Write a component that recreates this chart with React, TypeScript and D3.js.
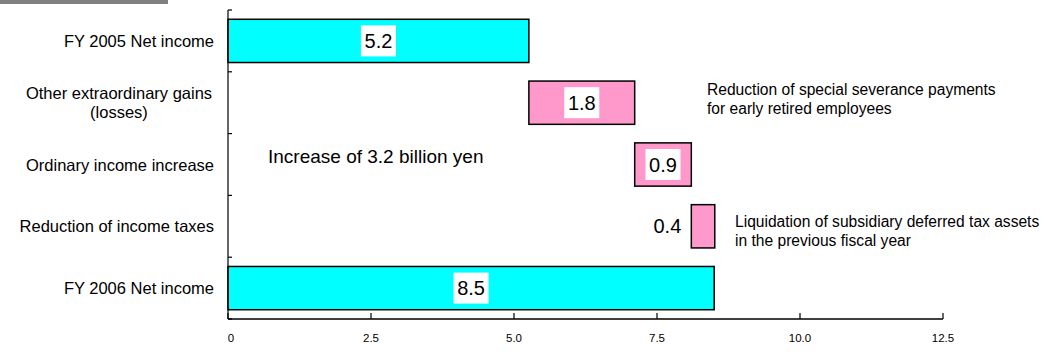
import React from "react";
import * as d3 from "d3";

const categories = [
  ["FY 2005 Net income"],
  ["Other extraordinary gains", "(losses)"],
  ["Ordinary income increase"],
  ["Reduction of income taxes "],
  ["FY 2006 Net income"],
];
const barValues = [5.26, 1.85, 0.99, 0.41, 8.5];
const barKinds = ["total", "delta", "delta", "delta", "total"];
const valueLabels = ["5.2", "1.8", "0.9", "0.4", "8.5"];
const xTicks = [0, 2.5, 5, 7.5, 10, 12.5];
const xTickLabels = ["0", "2.5", "5.0", "7.5", "10.0", "12.5"];
const note1 = ["Reduction of special severance payments", "for early retired employees"];
const note2 = ["Liquidation of subsidiary deferred tax assets", "in the previous fiscal year"];
const centerNote = "Increase of 3.2 billion yen";

const W = 1050;
const H = 352;
const FONT = "'Liberation Sans', Arial, sans-serif";

export default function App() {
  const x = d3.scaleLinear().domain([0, 12.5]).range([228, 943]);
  const idx = categories.map((_, i) => String(i));
  const y = d3.scaleBand().domain(idx).range([10, 319]).paddingInner(0.3).paddingOuter(0.15);
  const step = y.step();

  let cum = 0;
  const bars = barValues.map((v, i) => {
    let start = 0;
    let end = v;
    if (barKinds[i] === "delta") {
      start = cum;
      end = cum + v;
      cum = end;
    } else {
      cum = v;
    }
    return { i, start, end, kind: barKinds[i], label: valueLabels[i] };
  });

  const axisBottom = 319;

  return (
    <svg
      width={W}
      height={H}
      style={{ position: "absolute", left: 0, top: 0, background: "#fff" }}
      fontFamily={FONT}
    >
      <rect x={0} y={0} width={168} height={4} fill="#808080" />

      {/* bars */}
      {bars.map((b) => {
        const y0 = y(String(b.i))!;
        const bh = y.bandwidth();
        const x0 = x(b.start);
        const x1 = x(b.end);
        const cx = (x0 + x1) / 2;
        const cy = y0 + bh / 2;
        const fill = b.kind === "total" ? "#00FFFF" : "#FF99CC";
        const wide = x1 - x0 > 40;
        return (
          <g key={b.i}>
            <rect x={x0} y={y0} width={x1 - x0} height={bh} fill={fill} stroke="#000" strokeWidth={1.5} />
            {wide ? (
              <g>
                <rect x={cx - 17.5} y={cy - 15.5} width={35} height={31} fill="#fff" />
                <text x={cx} y={cy} textAnchor="middle" dominantBaseline="central" fontSize={20} fill="#000">
                  {b.label}
                </text>
              </g>
            ) : (
              <text x={x0 - 10} y={cy} textAnchor="end" dominantBaseline="central" fontSize={20} fill="#000">
                {b.label}
              </text>
            )}
          </g>
        );
      })}

      {/* y axis */}
      <line x1={228} x2={228} y1={10} y2={axisBottom} stroke="#000" strokeWidth={1.2} />
      {d3.range(categories.length + 1).map((k) => {
        const yy = 10 + k * step;
        return <line key={k} x1={228} x2={232} y1={yy} y2={yy} stroke="#000" strokeWidth={1.2} />;
      })}

      {/* x axis */}
      <line x1={228} x2={x(12.5)} y1={axisBottom} y2={axisBottom} stroke="#000" strokeWidth={1.5} />
      {xTicks.map((t, k) => (
        <g key={k}>
          <line x1={x(t)} x2={x(t)} y1={axisBottom} y2={axisBottom - 6} stroke="#000" strokeWidth={1.2} />
          <text x={x(t) + (t === 0 ? 3 : 0)} y={338} textAnchor="middle" dominantBaseline="central" fontSize={11.5} fill="#000">
            {xTickLabels[k]}
          </text>
        </g>
      ))}

      {/* category labels */}
      {categories.map((lines, i) => {
        const cy = y(String(i))! + y.bandwidth() / 2;
        const lh = 19;
        if (lines.length === 1) {
          return (
            <text key={i} x={214} y={cy} textAnchor="end" dominantBaseline="central" fontSize={16.5} fill="#000">
              {lines[0]}
            </text>
          );
        }
        return (
          <g key={i}>
            {lines.map((ln, j) => (
              <text
                key={j}
                x={119}
                y={cy - ((lines.length - 1) * lh) / 2 + j * lh}
                textAnchor="middle"
                dominantBaseline="central"
                fontSize={16.5}
                fill="#000"
              >
                {ln}
              </text>
            ))}
          </g>
        );
      })}

      {/* annotations */}
      <text x={268} y={156} dominantBaseline="central" fontSize={19} fill="#000">
        {centerNote}
      </text>
      {note1.map((ln, j) => (
        <text key={j} x={707} y={89 + j * 19} dominantBaseline="central" fontSize={15.6} fill="#000">
          {ln}
        </text>
      ))}
      {note2.map((ln, j) => (
        <text key={j} x={735} y={221 + j * 19} dominantBaseline="central" fontSize={15.6} fill="#000">
          {ln}
        </text>
      ))}
    </svg>
  );
}
